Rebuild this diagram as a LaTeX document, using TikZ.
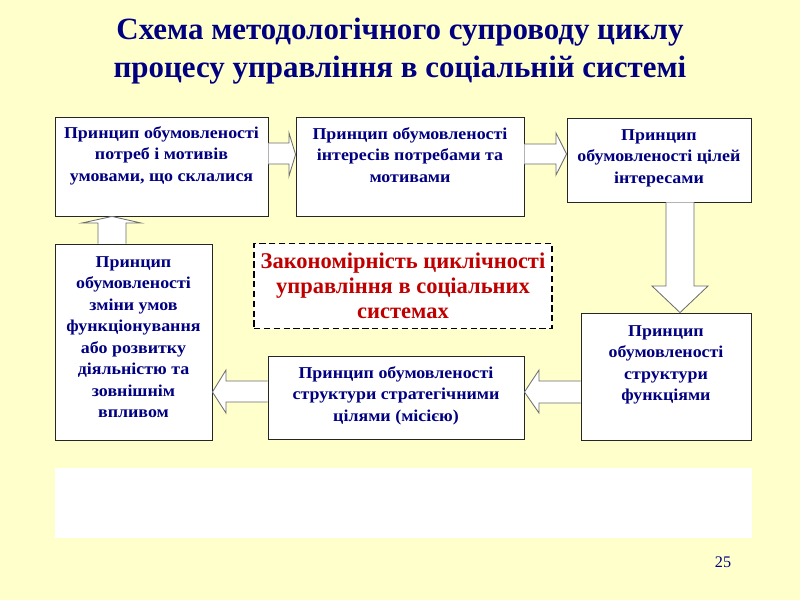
\documentclass[tikz,border=0pt]{standalone}
\usepackage{fontspec}
\setmainfont{Liberation Serif}
\newfontfamily\boxfont{Liberation Serif}[FakeStretch=1.08]
\usetikzlibrary{positioning}
\definecolor{slidebg}{RGB}{255,255,204}
\definecolor{navytext}{RGB}{0,0,128}
\definecolor{redtext}{RGB}{192,0,0}
\definecolor{arrline}{RGB}{110,110,110}
\newcommand{\px}{0.025cm}
\tikzset{
  box/.style={draw=black!85, fill=white, line width=0.6pt, inner sep=0pt},
  boxtext/.style={font=\boxfont\bfseries\fontsize{11.8}{15.3}\selectfont, text=navytext, align=center, inner sep=0pt, anchor=north},
  blockarr/.style={draw=arrline, fill=white, line width=0.6pt, line join=miter},
}

\begin{document}
\begin{tikzpicture}[x=0.025cm,y=-0.025cm]
\fill[slidebg] (0,0) rectangle (800,600);
\useasboundingbox (0,0) rectangle (800,600);

\node[font=\bfseries\fontsize{22}{27}\selectfont, text=navytext, align=center] (title) at (400,51)
  {Схема методологічного супроводу циклу\\процесу управління в соціальній системі};

\node[box, minimum width=213*\px, minimum height=99*\px] (pA) at (161.5,166.5) {};
\node[box, minimum width=228*\px, minimum height=99*\px] (pB) at (410,166.5) {};
\node[box, minimum width=184*\px, minimum height=84*\px] (pC) at (659,160) {};
\node[box, minimum width=170*\px, minimum height=127*\px] (pD) at (666,376.5) {};
\node[box, minimum width=256*\px, minimum height=83*\px] (pE) at (396,397.5) {};
\node[box, minimum width=157*\px, minimum height=196*\px] (pF) at (133.5,342) {};

\node[boxtext] (tA) at (161.5,126) {Принцип обумовленості\\потреб і мотивів\\умовами, що склалися};
\node[boxtext] (tB) at (410,127) {Принцип обумовленості\\інтересів потребами та\\мотивами};
\node[boxtext] (tC) at (659,129) {Принцип\\обумовленості цілей\\інтересами};
\node[boxtext] (tD) at (666,325) {Принцип\\обумовленості\\структури\\функціями};
\node[boxtext] (tE) at (396,366) {Принцип обумовленості\\структури стратегічними\\цілями (місією)};
\node[boxtext] (tF) at (133.5,256) {Принцип\\обумовленості\\зміни умов\\функціонування\\або розвитку\\діяльністю та\\зовнішнім\\впливом};

\node[draw=black, line width=1.3pt, dash pattern=on 4.5pt off 2.5pt, fill=white,
  minimum width=298*\px, minimum height=85*\px, align=center, text=redtext,
  font=\bfseries\fontsize{16}{17.8}\selectfont] (law) at (403,286)
  {Закономірність циклічності\\управління в соціальних\\системах};

\draw[blockarr] (pA.east |- 0,143) -- (289,143) -- (289,133) -- (pB.west |- 0,154.5)
  -- (289,176) -- (289,164) -- (pA.east |- 0,164);
\draw[blockarr] (pB.east |- 0,144) -- (556,144) -- (556,133) -- (pC.west |- 0,154)
  -- (556,175) -- (556,164) -- (pB.east |- 0,164);
\draw[blockarr] (pC.south -| 666,0) -- (666,286) -- (652,286) -- (pD.north -| 680,0)
  -- (708,286) -- (694,286) -- (pC.south -| 694,0);
\draw[blockarr] (pD.west |- 0,381) -- (539,381) -- (539,370) -- (pE.east |- 0,392)
  -- (539,413) -- (539,403) -- (pD.west |- 0,403);
\draw[blockarr] (pE.west |- 0,381) -- (226,381) -- (226,370) -- (pF.east |- 0,392)
  -- (226,413) -- (226,402) -- (pE.west |- 0,402);
\draw[blockarr] (pF.north -| 98,0) -- (98,223) -- (82,223) -- (pA.south -| 112,0)
  -- (141,223) -- (126,223) -- (pF.north -| 126,0);

\fill[white] (55,468) rectangle (752,538);
\node[font=\fontsize{11.5}{12}\selectfont, text=navytext] (pagenum) at (723,562) {25};
\end{tikzpicture}
\end{document}
